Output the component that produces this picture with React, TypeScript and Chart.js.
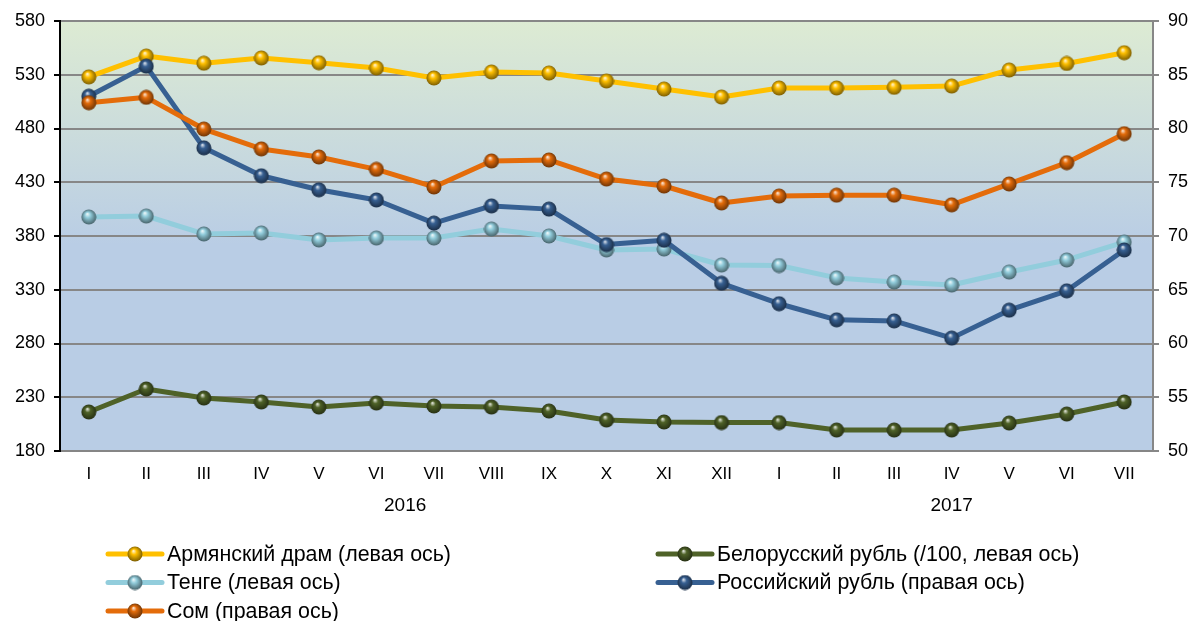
import React, { useEffect, useRef } from "react";
import { Chart, registerables } from "chart.js";
Chart.register(...registerables);

const months = ["I", "II", "III", "IV", "V", "VI", "VII", "VIII", "IX", "X", "XI", "XII", "I", "II", "III", "IV", "V", "VI", "VII"];
const yearLabels = ["2016", "2017"];
const yearMonthCounts = [12, 7];

const dram = [528, 547.4, 540.7, 545.6, 541.2, 536.3, 527, 532.6, 531.6, 524.2, 516.7, 509.3, 517.7, 517.7, 518.3, 519.5, 534.4, 540.5, 550.5];
const belRuble = [216.3, 237.7, 229.3, 225.6, 220.9, 224.6, 221.9, 220.9, 217.2, 208.8, 207, 206.5, 206.5, 199.5, 199.5, 199.5, 206, 214.4, 225.6];
const tenge = [397.7, 398.6, 381.9, 382.8, 376.3, 378.1, 378.1, 386.5, 380, 367, 367.9, 353, 352.5, 341, 337.2, 334.4, 346.5, 357.7, 374.4];
const rusRuble = [83.0, 85.8, 78.2, 75.6, 74.3, 73.35, 71.2, 72.8, 72.5, 69.2, 69.6, 65.6, 63.7, 62.2, 62.1, 60.5, 63.1, 64.9, 68.7];
const som = [82.4, 82.9, 79.95, 78.1, 77.35, 76.2, 74.56, 76.98, 77.07, 75.3, 74.65, 73.07, 73.72, 73.8, 73.8, 72.9, 74.84, 76.82, 79.52];

const seriesLabels = [
  "Армянский драм (левая ось)",
  "Белорусский рубль (/100, левая ось)",
  "Тенге (левая ось)",
  "Российский рубль (правая ось)",
  "Сом (правая ось)",
];
const seriesColors = ["#FFC000", "#4F6228", "#92CDDC", "#376092", "#E46C0A"];

const FONT = "Arial, 'Liberation Sans', sans-serif";

function shade(hex: string, f: number) {
  const n = parseInt(hex.slice(1), 16);
  let r = (n >> 16) & 255, g = (n >> 8) & 255, b = n & 255;
  if (f >= 0) {
    r = Math.round(r + (255 - r) * f);
    g = Math.round(g + (255 - g) * f);
    b = Math.round(b + (255 - b) * f);
  } else {
    r = Math.round(r * (1 + f));
    g = Math.round(g * (1 + f));
    b = Math.round(b * (1 + f));
  }
  return `rgb(${r},${g},${b})`;
}

function makeSphere(color: string) {
  const s = 16;
  const c = document.createElement("canvas");
  c.width = s;
  c.height = s;
  const ctx = c.getContext("2d")!;
  const g = ctx.createRadialGradient(6.5, 5, 0.5, 8, 8, 8);
  g.addColorStop(0, shade(color, 0.75));
  g.addColorStop(0.3, color);
  g.addColorStop(0.75, shade(color, -0.35));
  g.addColorStop(1, shade(color, -0.55));
  ctx.fillStyle = g;
  ctx.beginPath();
  ctx.arc(8, 8, 7.5, 0, Math.PI * 2);
  ctx.fill();
  return c;
}

export default function App() {
  const ref = useRef<HTMLCanvasElement | null>(null);
  useEffect(() => {
    const canvas = ref.current!;
    const spheres = seriesColors.map(makeSphere);
    const values = [dram, belRuble, tenge, rusRuble, som];
    const axes = ["y", "y", "y", "y1", "y1"];
    const orders = [5, 4, 3, 2, 1];

    const bgPlugin = {
      id: "bg",
      beforeDraw(chart: any) {
        const { ctx, chartArea: a } = chart;
        const g = ctx.createLinearGradient(0, a.top, 0, a.bottom);
        g.addColorStop(0, "#DDEBD3");
        g.addColorStop(0.52, "#B9CDE5");
        g.addColorStop(1, "#B9CDE5");
        ctx.save();
        ctx.fillStyle = g;
        ctx.fillRect(a.left, a.top, a.right - a.left, a.bottom - a.top);
        ctx.restore();
      },
    };

    const extrasPlugin = {
      id: "extras",
      afterDraw(chart: any) {
        const ctx = chart.ctx;
        const x = chart.scales.x;
        ctx.save();
        ctx.fillStyle = "#000";
        ctx.font = `19px ${FONT}`;
        ctx.textAlign = "center";
        ctx.textBaseline = "middle";
        let start = 0;
        yearLabels.forEach((yl, i) => {
          const end = start + yearMonthCounts[i] - 1;
          const cx = (x.getPixelForValue(start) + x.getPixelForValue(end)) / 2;
          ctx.fillText(yl, cx, 506);
          start = end + 1;
        });
        // legend
        ctx.font = `21.4px ${FONT}`;
        ctx.textAlign = "left";
        seriesLabels.forEach((lab, i) => {
          const col = i % 2;
          const row = Math.floor(i / 2);
          const lx = col === 0 ? 108 : 658;
          const ly = 554 + row * 28.5;
          ctx.strokeStyle = seriesColors[i];
          ctx.lineWidth = 5;
          ctx.lineCap = "round";
          ctx.beginPath();
          ctx.moveTo(lx, ly);
          ctx.lineTo(lx + 54, ly);
          ctx.stroke();
          const sp = spheres[i];
          ctx.drawImage(sp, lx + 27 - sp.width / 2, ly - sp.height / 2);
          ctx.fillStyle = "#000";
          ctx.fillText(lab, lx + 59, ly + 1);
        });
        ctx.restore();
      },
    };

    const chart = new Chart(canvas, {
      type: "line",
      data: {
        labels: months,
        datasets: values.map((v, i) => ({
          label: seriesLabels[i],
          data: v,
          yAxisID: axes[i],
          order: orders[i],
          borderColor: seriesColors[i],
          backgroundColor: seriesColors[i],
          borderWidth: 5,
          pointStyle: spheres[i],
          pointRadius: 7,
          tension: 0,
          borderJoinStyle: "round",
          borderCapStyle: "round",
        })),
      },
      options: {
        animation: false,
        responsive: false,
        maintainAspectRatio: false,
        devicePixelRatio: 1,
        layout: { padding: { top: 21, left: 0, right: 0, bottom: 0 } },
        plugins: { legend: { display: false }, tooltip: { enabled: false } },
        scales: {
          x: {
            offset: true,
            grid: { display: false, drawTicks: false },
            border: { display: true, color: "#868686", width: 2 },
            ticks: { color: "#000", font: { size: 17, family: FONT }, padding: 13, maxRotation: 0, autoSkip: false },
            afterFit(s: any) { s.height = 170; },
          },
          y: {
            position: "left",
            min: 180,
            max: 580,
            ticks: { stepSize: 50, color: "#000", font: { size: 18, family: FONT }, padding: 9 },
            grid: { color: "#878787", lineWidth: 2, tickColor: "#000", tickLength: 6 },
            border: { display: true, color: "#000", width: 2 },
            afterFit(s: any) { s.width = 60; },
          },
          y1: {
            position: "right",
            min: 50,
            max: 90,
            ticks: { stepSize: 5, color: "#000", font: { size: 18, family: FONT }, padding: 9 },
            grid: { drawOnChartArea: false, color: "#878787", lineWidth: 2, tickLength: 6 },
            border: { display: true, color: "#878787", width: 2 },
            afterFit(s: any) { s.width = 39; },
          },
        },
      },
      plugins: [bgPlugin, extrasPlugin],
    } as any);
    return () => chart.destroy();
  }, []);

  return (
    <div style={{ position: "absolute", left: 0, top: 0, width: 1192, height: 621 }}>
      <canvas ref={ref} width={1192} height={621} style={{ width: 1192, height: 621, display: "block" }} />
    </div>
  );
}
